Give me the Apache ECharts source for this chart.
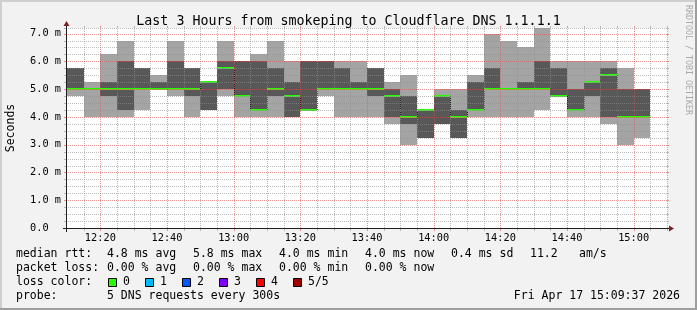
<!DOCTYPE html>
<html><head><meta charset="utf-8">
<script src="https://cdn.jsdelivr.net/npm/echarts@6/dist/echarts.min.js"></script>
<style>html,body{margin:0;padding:0;background:#f2f2f2}#c{width:697px;height:310px}</style>
</head><body><div id="c"></div>
<script>
// ---- data ----
const timeTicks = ['12:10','12:15','12:20','12:25','12:30','12:35','12:40','12:45','12:50','12:55',
  '13:00','13:05','13:10','13:15','13:20','13:25','13:30','13:35','13:40','13:45','13:50','13:55',
  '14:00','14:05','14:10','14:15','14:20','14:25','14:30','14:35','14:40','14:45','14:50','14:55',
  '15:00','15:05','15:10'];
// 5 pings per 5-minute bin, sorted: min, 2nd, median, 4th, max (ms)
const rttMin    = [4.75,4.0,4.0,4.0,4.25,5.0,4.75,4.0,4.25,4.75,4.0,4.0,4.0,4.0,4.25,4.75,4.0,4.0,4.0,3.75,3.0,3.25,3.75,3.25,4.0,4.0,4.0,4.0,4.25,4.75,4.0,4.0,3.75,3.0,3.25];
const rttP2     = [5.0,5.0,4.75,4.25,5.0,5.0,5.0,4.75,4.25,5.0,4.75,4.25,4.75,4.0,4.25,5.0,5.0,5.0,4.75,4.0,3.75,3.25,3.75,3.25,4.25,5.0,5.0,5.0,5.0,4.75,4.25,4.75,4.0,4.0,4.0];
const rttMedian = [5.0,5.0,5.0,5.0,5.0,5.0,5.0,5.0,5.25,5.75,4.75,4.25,5.0,4.75,4.25,5.0,5.0,5.0,5.0,4.75,4.0,4.25,4.75,4.0,4.25,5.0,5.0,5.0,5.0,4.75,4.25,5.25,5.5,4.0,4.0];
const rttP4     = [5.75,5.0,5.25,6.0,5.75,5.25,6.0,5.75,5.25,6.0,6.0,6.0,5.75,5.25,6.0,6.0,5.75,5.25,5.75,5.0,4.75,4.25,4.75,4.25,5.25,5.75,5.0,5.25,6.0,5.75,5.0,5.25,5.75,5.0,5.0];
const rttMax    = [5.75,5.25,6.25,6.75,5.75,5.5,6.75,5.75,5.25,6.75,6.0,6.25,6.75,6.0,6.0,6.0,6.0,6.0,5.75,5.25,5.5,4.25,5.0,5.0,5.5,7.0,6.75,6.5,7.25,6.0,6.0,6.0,6.0,5.75,5.0];

const yMax = 7.2;
const yMajorStep = 1;
const yMinorStep = 0.25;

const titleText = 'Last 3 Hours from smokeping to Cloudflare DNS 1.1.1.1';
const yAxisName = 'Seconds';
const rowLabels = ['median rtt:', 'packet loss:', 'loss color:', 'probe:'];
const rttStats  = ['4.8 ms avg', '5.8 ms max', '4.0 ms min', '4.0 ms now', '0.4 ms sd', '11.2', 'am/s'];
const lossStats = ['0.00 % avg', '0.00 % max', '0.00 % min', '0.00 % now'];
const lossLevels = ['0', '1', '2', '3', '4', '5/5'];
const lossColors = ['#26ff00', '#00b8ff', '#0059ff', '#7e00ff', '#ff0000', '#a00000'];
const probeText = '5 DNS requests every 300s';
const stampText = 'Fri Apr 17 15:09:37 2026';
const watermark = 'RRDTOOL / TOBI OETIKER';

// ---- style / layout ----
const FONT = '"DejaVu Sans Mono", monospace';
const GRIDC = 'rgba(143,143,143,0.6)';
const MGRIDC = 'rgba(222,79,79,0.6)';
const L = 67, T = 28, PW = 600, PH = 200;
const LIGHT = '#a4a4a4', DARK = '#585858', MEDC = '#26ff00';

const majorX = (i) => i % 4 === 2;

function renderSmoke(params, api) {
  const k = api.value(0);
  const xa = Math.round(api.coord([k, 0])[0]);
  const xb = Math.round(api.coord([k + 1, 0])[0]);
  const top = params.coordSys.y;
  const y = (v) => Math.max(top, Math.round(api.coord([k, v])[1]));
  const kids = [];
  const band = (lo, hi, fill) => {
    const y1 = y(hi), y2 = y(lo);
    if (y2 - y1 > 0) kids.push({ type: 'rect', shape: { x: xa, y: y1, width: xb - xa, height: y2 - y1 }, style: { fill: fill } });
  };
  band(api.value(1), api.value(5), LIGHT);
  band(api.value(2), api.value(4), DARK);
  const med = api.value(3);
  if (k > 0 && rttMedian[k - 1] !== med) {
    kids.push({ type: 'line', shape: { x1: xa + 0.5, y1: y(rttMedian[k - 1]), x2: xa + 0.5, y2: y(med) },
      style: { stroke: '#202020', lineWidth: 1, lineDash: [1, 1] } });
  }
  const ym = y(med);
  kids.push({ type: 'rect', shape: { x: xa, y: ym - 1, width: xb - xa, height: 2 }, style: { fill: MEDC } });
  return { type: 'group', children: kids };
}

// grid lines: kind 0 = vertical minor, 1 = vertical major, 2 = horizontal minor, 3 = horizontal major
function renderGrid(params, api) {
  const kind = api.value(2);
  const cs = params.coordSys;
  const color = (kind === 1 || kind === 3) ? MGRIDC : GRIDC;
  const kids = [];
  const seg = (x1, y1, x2, y2, dash) => kids.push({ type: 'line', shape: { x1, y1, x2, y2 },
    style: { stroke: color, lineWidth: 1, lineDash: dash ? [1, 1] : null } });
  if (kind < 2) {
    const x = Math.round(api.coord([api.value(0), 0])[0]) + 0.5;
    seg(x, cs.y + 1, x, cs.y + cs.height, true);
    seg(x, cs.y - 2, x, cs.y, false);
    seg(x, cs.y + cs.height + 1, x, cs.y + cs.height + 3, false);
  } else {
    const yy = Math.round(api.coord([0, api.value(1)])[1]) + 0.5;
    seg(cs.x + 1, yy, cs.x + cs.width, yy, true);
    seg(cs.x - 3, yy, cs.x - 1, yy, false);
    seg(cs.x + cs.width, yy, cs.x + cs.width + 2, yy, false);
  }
  return { type: 'group', children: kids };
}

const gridData = [];
timeTicks.forEach((t, i) => { if (i > 0) gridData.push([i, 0, majorX(i) ? 1 : 0]); });
for (let j = 1; j * yMinorStep < yMax + 1e-9; j++) {
  const v = j * yMinorStep;
  gridData.push([0, v, Math.abs(v / yMajorStep - Math.round(v / yMajorStep)) < 1e-9 ? 3 : 2]);
}
gridData.push([0, yMax, 2]);

function txt(x, y, text, opts) {
  opts = opts || {};
  return {
    type: 'text', x: x, y: y, rotation: opts.rotation || 0, z: 100, silent: true,
    style: {
      text: text, fill: opts.fill || '#000', font: (opts.size || 11.5) + 'px ' + FONT,
      align: opts.align || 'left', verticalAlign: 'middle',
      textAlign: opts.align || 'left', textVerticalAlign: 'middle'
    }
  };
}

const graphics = [];
// 3D frame
graphics.push({ type: 'rect', z: 100, shape: { x: 0, y: 0, width: 697, height: 2 }, style: { fill: '#cfcfcf' } });
graphics.push({ type: 'rect', z: 100, shape: { x: 0, y: 0, width: 2, height: 310 }, style: { fill: '#cfcfcf' } });
graphics.push({ type: 'rect', z: 100, shape: { x: 0, y: 308, width: 697, height: 2 }, style: { fill: '#9e9e9e' } });
graphics.push({ type: 'rect', z: 100, shape: { x: 695, y: 0, width: 2, height: 310 }, style: { fill: '#9e9e9e' } });
// axes with arrows
graphics.push({ type: 'line', z: 100, shape: { x1: L - 4, y1: T + PH + 0.5, x2: L + PW + 2, y2: T + PH + 0.5 }, style: { stroke: '#1f1f1f', lineWidth: 1 } });
graphics.push({ type: 'line', z: 100, shape: { x1: L - 0.5, y1: T + PH + 4, x2: L - 0.5, y2: T - 2 }, style: { stroke: '#1f1f1f', lineWidth: 1 } });
graphics.push({ type: 'polygon', z: 100, shape: { points: [[L + PW + 2, T + PH - 2.5], [L + PW + 2, T + PH + 3.5], [L + PW + 7, T + PH + 0.5]] }, style: { fill: '#801f1f' } });
graphics.push({ type: 'polygon', z: 100, shape: { points: [[L - 3.5, T - 2], [L + 2.5, T - 2], [L - 0.5, T - 7]] }, style: { fill: '#801f1f' } });
// axis name & watermark
graphics.push(txt(11, T + PH / 2, yAxisName, { rotation: Math.PI / 2, align: 'center', size: 11.5 }));
graphics.push(txt(688, 60, watermark, { rotation: -Math.PI / 2, align: 'center', size: 8.3, fill: '#a9a9a9' }));
// legend
const rowY = [254, 268.5, 282.5, 296.5];
const colX = [107, 193, 279, 365, 451, 530, 579];
rowLabels.forEach((s, i) => graphics.push(txt(16, rowY[i], s)));
rttStats.forEach((s, i) => graphics.push(txt(colX[i], rowY[0], s)));
lossStats.forEach((s, i) => graphics.push(txt(colX[i], rowY[1], s)));
lossLevels.forEach((s, i) => {
  const bx = 108 + 37 * i;
  graphics.push({ type: 'rect', z: 100, shape: { x: bx + 0.5, y: 278.5, width: 8, height: 8 }, style: { fill: lossColors[i], stroke: '#000', lineWidth: 1 } });
  graphics.push(txt(bx + 15, rowY[2], s));
});
graphics.push(txt(107, rowY[3], probeText));
graphics.push(txt(680, rowY[3], stampText, { align: 'right' }));

const chart = echarts.init(document.getElementById('c'), null, { renderer: 'canvas' });
chart.setOption({
  animation: false,
  backgroundColor: '#f2f2f2',
  title: { text: titleText, left: 'center', top: 10, textStyle: { fontFamily: FONT, fontSize: 13.3, fontWeight: 'normal', color: '#000' } },
  grid: { left: L, top: T, width: PW, height: PH, show: true, backgroundColor: '#ffffff', borderWidth: 0, containLabel: false, outerBoundsMode: 'none' },
  xAxis: {
    type: 'category', data: timeTicks, boundaryGap: false, position: 'bottom',
    axisLine: { show: false }, axisTick: { show: false }, splitLine: { show: false },
    axisLabel: { show: true, interval: majorX, margin: 5, color: '#000', fontFamily: FONT, fontSize: 10.3 }
  },
  yAxis: {
    type: 'value', min: 0, max: yMax, interval: yMajorStep, position: 'left',
    axisLine: { show: false }, axisTick: { show: false }, splitLine: { show: false },
    axisLabel: {
      show: true, margin: 6, color: '#000', fontFamily: FONT, fontSize: 10.3, showMaxLabel: false,
      formatter: (v) => Math.abs(v) < 1e-9 ? '0.0  ' : v.toFixed(1) + ' m'
    }
  },
  graphic: { elements: graphics },
  series: [{
    type: 'custom', clip: true, z: 2, silent: true,
    data: rttMin.map((v, k) => [k, rttMin[k], rttP2[k], rttMedian[k], rttP4[k], rttMax[k]]),
    encode: { x: 0, y: [1, 2, 3, 4, 5] },
    renderItem: renderSmoke
  }, {
    type: 'custom', clip: false, z: 3, silent: true,
    data: gridData,
    encode: { x: 0, y: 1 },
    renderItem: renderGrid
  }]
});
</script></body></html>
